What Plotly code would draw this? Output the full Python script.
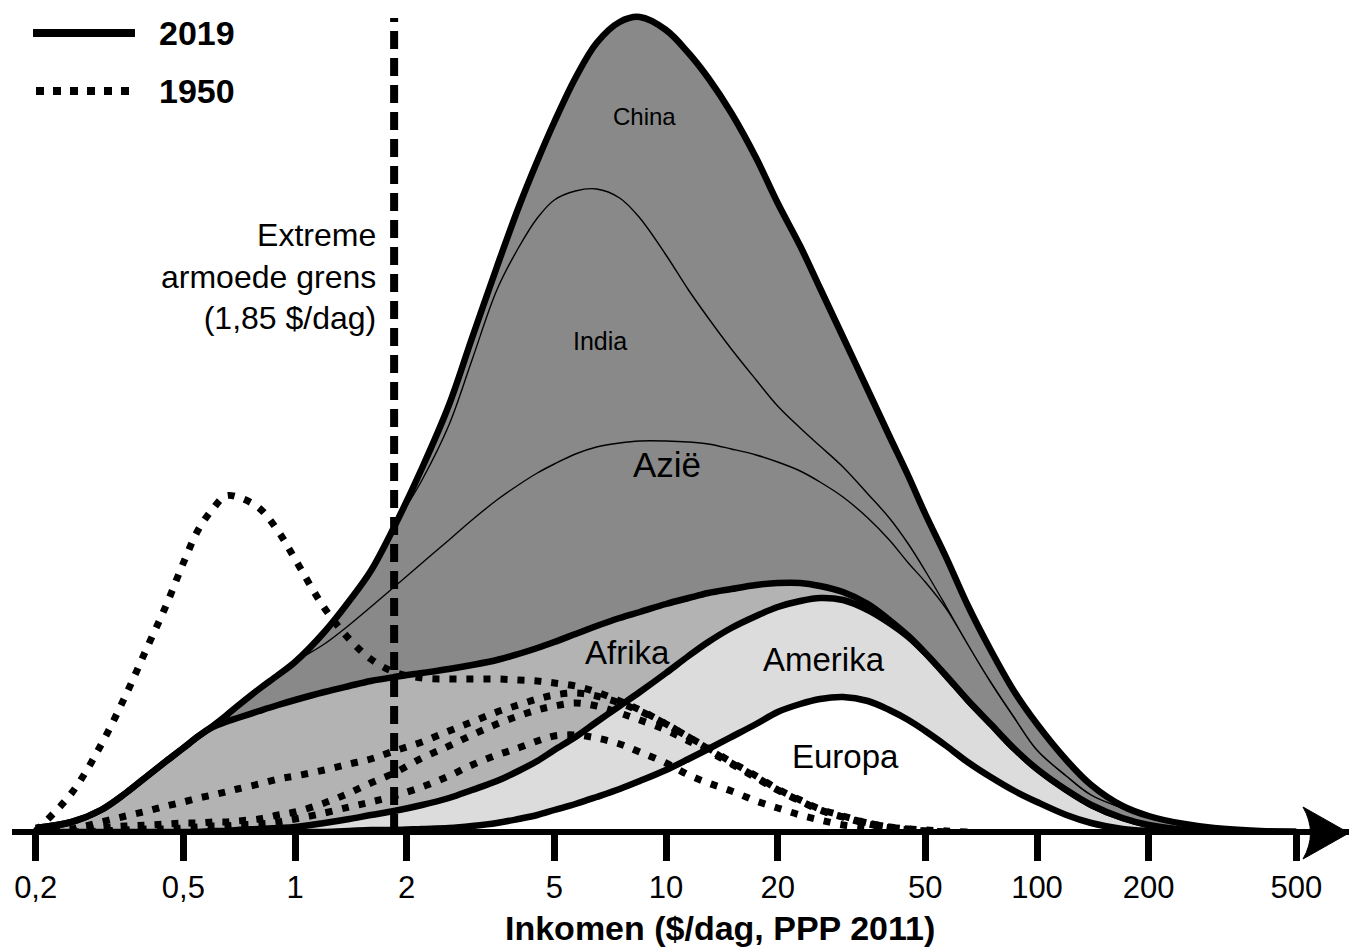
import plotly.graph_objects as go

# ---------------- data ----------------
income = [0.2, 0.25, 0.3, 0.35, 0.4, 0.45, 0.5, 0.55, 0.6, 0.65, 0.7, 0.8, 0.9, 1.0,
          1.2, 1.4, 1.6, 1.85, 2.2, 2.6, 3, 3.5, 4, 4.5, 5, 5.7, 6.5, 7.5, 8.5, 10,
          11.5, 13, 15, 17.5, 20, 23, 26, 30, 35, 40, 45, 50, 57, 65, 75, 87, 100,
          120, 140, 170, 200, 250, 300, 400, 500]

# 2019, cumulative tops (Europa at the bottom)
europa_top = [0, 0, 0, 0, 0, 0, 0, 0, 0, 0, 0, 0, 0, 0,
              0, 1, 2, 2, 3, 4, 6, 9, 13, 17, 22, 28, 35, 43, 51, 62,
              73, 83, 95, 108, 120, 128, 133, 135, 131, 122, 112, 101, 86, 70, 55, 41, 30,
              17, 9, 3, 1, 0, 0, 0, 0]
amerika_top = [0, 0, 0, 0, 0, 0, 0, 0, 1, 1, 2, 3, 4, 5,
               9, 13, 17, 21, 27, 34, 42, 51, 61, 71, 82, 95, 110, 126, 140, 159,
               176, 190, 204, 216, 225, 231, 234, 232, 222, 209, 195, 179, 156, 132, 108, 83, 63,
               42, 27, 14, 7, 2, 0, 0, 0]
afrika_top = [4, 10, 22, 39, 56, 71, 84, 96, 105, 110, 114, 121, 127, 132,
              140, 146, 151, 155, 159, 163, 167, 172, 178, 184, 190, 198, 206, 214, 220, 228,
              234, 239, 243, 247, 249, 249, 246, 240, 228, 212, 196, 179, 156, 132, 108, 83, 63,
              42, 27, 14, 7, 2, 0, 0, 0]
azie_top = [4, 10, 22, 39, 56, 71, 84, 96, 106, 116, 126, 143, 157, 170,
            188, 207, 225, 245, 269, 292, 312, 332, 347, 359, 368, 378, 385, 389, 391, 391,
            390, 388, 383, 377, 370, 361, 350, 335, 314, 292, 269, 250, 223, 188, 150, 114, 82,
            56, 37, 24, 16, 8, 4, 1, 0]
india_top = [4, 10, 22, 39, 56, 71, 84, 96, 106, 116, 126, 143, 157, 170,
             200, 231, 261, 305, 352, 407, 472, 542, 584, 614, 632, 641, 643, 634, 614, 577,
             542, 514, 483, 452, 426, 404, 386, 365, 338, 314, 288, 261, 225, 188, 150, 114, 82,
             56, 37, 24, 16, 8, 4, 1, 0]
china_top = [4, 10, 22, 39, 56, 71, 84, 96, 106, 116, 126, 143, 157, 170,
             200, 231, 261, 305, 364, 427, 494, 565, 624, 671, 710, 754, 789, 810, 815, 802,
             779, 754, 719, 674, 629, 586, 544, 495, 442, 396, 356, 318, 274, 227, 182, 140, 108,
             72, 47, 26, 16, 8, 4, 1, 0]

# 1950 (dotted)
totaal_1950 = [1, 39, 87, 137, 185, 227, 269, 303, 323, 336, 335, 324, 301, 273,
               224, 193, 173, 160, 154, 153, 153, 153, 152, 151, 149, 146, 140, 131, 122, 108,
               95, 84, 70, 56, 43, 32, 23, 16, 9, 5, 3, 2, 1, 0, 0, 0, 0,
               0, 0, 0, 0, 0, 0, 0, 0]
reeks_b_1950 = [0, 3, 10, 16, 21, 26, 30, 34, 37, 40, 43, 48, 53, 56,
                62, 68, 73, 81, 90, 101, 110, 120, 127, 133, 137, 139, 136, 129, 121, 108,
                95, 83, 69, 55, 42, 31, 22, 15, 8, 4, 2, 1, 0, 0, 0, 0, 0,
                0, 0, 0, 0, 0, 0, 0, 0]
reeks_c_1950 = [0, 1, 4, 6, 7, 8, 9, 9, 10, 10, 11, 13, 17, 20,
                29, 39, 49, 59, 74, 86, 97, 108, 116, 122, 126, 129, 126, 119, 112, 102,
                91, 81, 68, 54, 42, 31, 22, 15, 9, 5, 3, 1, 0, 0, 0, 0, 0,
                0, 0, 0, 0, 0, 0, 0, 0]
reeks_d_1950 = [0, 0, 1, 2, 3, 3, 4, 5, 6, 6, 7, 8, 10, 13,
                19, 25, 30, 36, 45, 56, 67, 77, 84, 91, 96, 97, 94, 88, 80, 69,
                57, 49, 41, 31, 24, 17, 12, 7, 4, 2, 1, 0, 0, 0, 0, 0, 0,
                0, 0, 0, 0, 0, 0, 0, 0]

armoede_grens = 1.85
armoede_lijn_top = 814

tick_vals = [0.2, 0.5, 1, 2, 5, 10, 20, 50, 100, 200, 500]
tick_text = ["0,2", "0,5", "1", "2", "5", "10", "20", "50", "100", "200", "500"]

# ---------------- layout geometry ----------------
W, H = 1349, 949
ML = 12
PB = 829                 # plot-area height in px (axis line sits just below it)
MB = H - PB
PW = W - ML
Y_LO, Y_HI = 3, PB + 3   # value 0 lands on the centre of the axis line
X0_PX, DEC_PX = 295.0, 371.0   # pixel of income 1, pixels per decade
x_lo = (ML - X0_PX) / DEC_PX
x_hi = (W - X0_PX) / DEC_PX

def px(xp):
    return (xp - ML) / PW

def py(yp):
    return (PB - yp) / PB

FONT = "Liberation Sans, Arial, sans-serif"
DARK = "#898989"
MID = "#b3b3b3"
LIGHT = "#dcdcdc"
THICK = 6.5

fig = go.Figure()

def area(y, fill, fillcolor, width):
    fig.add_trace(go.Scatter(
        x=income, y=y, mode="lines", fill=fill, fillcolor=fillcolor,
        line=dict(color="black", width=width, shape="spline", smoothing=1.0),
        hoverinfo="skip", showlegend=False))

area(europa_top, "tozeroy", "white", THICK)
area(amerika_top, "tonexty", LIGHT, THICK)
area(afrika_top, "tonexty", MID, THICK)
area(azie_top, "tonexty", DARK, 1.4)
area(india_top, "tonexty", DARK, 1.4)
area(china_top, "tonexty", DARK, THICK)

def trimmed(xs, ys):
    # keep the curve from its first to its last non-zero point (plus one zero on each side)
    nz = [i for i, v in enumerate(ys) if v > 0]
    a = max(nz[0] - 1, 0)
    b = min(nz[-1] + 2, len(ys))
    return xs[a:b], ys[a:b]

for serie in (reeks_d_1950, reeks_c_1950, reeks_b_1950, totaal_1950):
    xs, ys = trimmed(income, serie)
    fig.add_trace(go.Scatter(
        x=xs, y=ys, mode="lines",
        line=dict(color="black", width=7, dash="7px,10px", shape="spline", smoothing=1.0),
        hoverinfo="skip", showlegend=False))

fig.add_trace(go.Scatter(
    x=[armoede_grens, armoede_grens], y=[0, armoede_lijn_top], mode="lines",
    line=dict(color="black", width=8, dash="18px,9px"),
    hoverinfo="skip", showlegend=False))

shapes = []
# legend lines
shapes.append(dict(type="line", xref="paper", yref="paper", x0=px(33), x1=px(135),
                   y0=py(33), y1=py(33), line=dict(color="black", width=8)))
shapes.append(dict(type="line", xref="paper", yref="paper", x0=px(36), x1=px(136),
                   y0=py(91), y1=py(91), line=dict(color="black", width=8, dash="8px,9px")))
# arrow head on the axis
ah = "M {:.5f},{:.5f} L {:.5f},{:.5f} Q {:.5f},{:.5f} {:.5f},{:.5f} Z".format(
    px(1349), py(833), px(1303), py(807), px(1318), py(833), px(1303), py(859))
shapes.append(dict(type="path", xref="paper", yref="paper", path=ah,
                   fillcolor="black", line=dict(color="black", width=1)))

ann = []
def label(text, x, y, size, bold=False, xanchor="center", align="center"):
    t = "<b>%s</b>" % text if bold else text
    ann.append(dict(text=t, x=px(x), y=py(y), xref="paper", yref="paper",
                    xanchor=xanchor, yanchor="middle", align=align, showarrow=False,
                    font=dict(family=FONT, size=size, color="black")))

label("2019", 157, 33, 34, bold=True, xanchor="left")
label("1950", 157, 91, 34, bold=True, xanchor="left")
label("Extreme<br>armoede grens<br>(1,85 $/dag)", 378, 276, 32, xanchor="right", align="right")
label("China", 644, 117, 24)
label("India", 600, 341, 25)
label("Azië", 667, 464, 35)
label("Afrika", 627, 652, 33)
label("Amerika", 824, 659, 33)
label("Europa", 845, 756, 33)
label("Inkomen ($/dag, PPP 2011)", 720, 928, 34, bold=True)

fig.update_layout(
    width=W, height=H,
    margin=dict(l=ML, r=0, t=0, b=MB, pad=0),
    paper_bgcolor="white", plot_bgcolor="white",
    showlegend=False,
    shapes=shapes, annotations=ann,
    font=dict(family=FONT, color="black"),
    xaxis=dict(type="log", range=[x_lo, x_hi], tickmode="array",
               tickvals=tick_vals, ticktext=tick_text,
               ticks="outside", ticklen=26, tickwidth=7, tickcolor="black",
               showline=True, linewidth=6, linecolor="black",
               showgrid=False, zeroline=False,
               tickfont=dict(family=FONT, size=31, color="black")),
    yaxis=dict(range=[Y_LO, Y_HI], visible=False, showgrid=False, zeroline=False),
)

fig.write_html("out.html", config={"displayModeBar": False},
               post_script="document.body.style.margin='0px';document.body.style.padding='0px';")
